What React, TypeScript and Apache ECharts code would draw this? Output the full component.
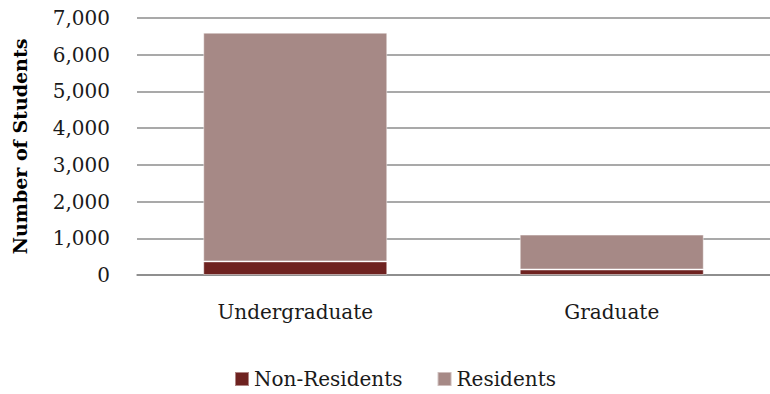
import React, { useEffect, useRef } from "react";
import * as echarts from "echarts";

const categories = ["Undergraduate", "Graduate"];
const nonResidents = [370, 150];
const residents = [6230, 950];
const yTicks = [0, 1000, 2000, 3000, 4000, 5000, 6000, 7000];

const FONT = "DejaVu Serif";
const FS = 20;

export default function App() {
  const ref = useRef<HTMLDivElement>(null);
  useEffect(() => {
    document.body.style.margin = "0";
    if (!ref.current) return;
    const chart = echarts.init(ref.current, undefined, { renderer: "svg" });
    chart.setOption({
      animation: false,
      textStyle: { fontFamily: FONT },
      grid: { left: 137, top: 18, width: 644, height: 257, containLabel: false },
      legend: {
        left: 234,
        top: 369,
        padding: 0,
        itemWidth: 14,
        itemHeight: 14,
        itemGap: 34,
        icon: "rect",
        textStyle: { fontFamily: FONT, fontSize: FS, color: "#1a1a1a" },
        data: ["Non-Residents", "Residents"],
      },
      xAxis: {
        type: "category",
        data: categories,
        axisLine: { lineStyle: { color: "#868686", width: 1.5 } },
        axisTick: { show: false },
        axisLabel: { fontFamily: FONT, fontSize: FS, color: "#1a1a1a", margin: 27 },
      },
      yAxis: {
        type: "value",
        min: yTicks[0],
        max: yTicks[yTicks.length - 1],
        interval: 1000,
        name: "Number of Students",
        nameLocation: "middle",
        nameRotate: 90,
        nameGap: 108,
        nameTextStyle: { fontFamily: FONT, fontSize: 19, fontWeight: "bold", color: "#000" },
        axisLine: { show: false },
        axisTick: { show: false },
        splitLine: { lineStyle: { color: "#8c8c8c", width: 1.5 } },
        axisLabel: {
          fontFamily: FONT,
          fontSize: FS,
          color: "#1a1a1a",
          margin: 27,
          formatter: (v: number) => v.toLocaleString("en-US"),
        },
      },
      series: [
        {
          name: "Non-Residents",
          type: "bar",
          stack: "total",
          data: nonResidents,
          barWidth: 184,
          itemStyle: { color: "#6E2220", borderColor: "rgba(255,255,255,0.45)", borderWidth: 1 },
        },
        {
          name: "Residents",
          type: "bar",
          stack: "total",
          data: residents,
          barWidth: 184,
          itemStyle: { color: "#A68986", borderColor: "rgba(255,255,255,0.45)", borderWidth: 1 },
        },
      ],
    });
    return () => chart.dispose();
  }, []);
  return <div ref={ref} style={{ width: 770, height: 394 }} />;
}
